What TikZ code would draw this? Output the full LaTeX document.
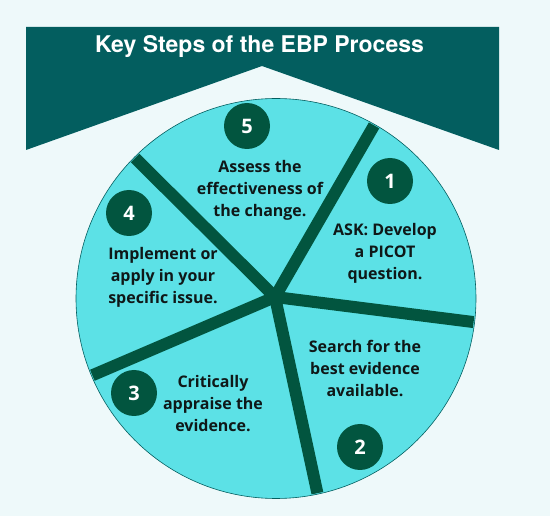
\documentclass[tikz,border=0pt]{standalone}
\usepackage{fontspec}
\setmainfont{Open Sans}
\newfontfamily\titlefont{TeX Gyre Heros}
\usetikzlibrary{positioning,calc}
\definecolor{bgc}{HTML}{EEF9FA}
\definecolor{banner}{HTML}{035E5F}
\definecolor{disc}{HTML}{5CE1E6}
\definecolor{spoke}{HTML}{02553F}
\definecolor{ink}{HTML}{0F1818}

\begin{document}
\begin{tikzpicture}[
      x=1pt, y=-1pt,
      txt/.style={font=\fontsize{16}{22}\selectfont\bfseries, text=ink, align=center, inner sep=0pt},
      num/.style={circle, fill=spoke, minimum size=46pt, inner sep=0pt, text=white, font=\fontsize{20}{20}\selectfont\bfseries},
      spk/.style={draw=spoke, line width=12pt, line cap=round}
    ]
    \fill[bgc] (0,0) rectangle (550,516);
    % banner
    \fill[banner] (26,27) -- (499,27) -- (499,150) -- (262,66) -- (26,150) -- cycle;
    \node[font=\titlefont\fontsize{23}{23}\selectfont\bfseries, text=white] (title) at (259.5,46) {Key Steps of the EBP Process};
    % wheel
    \node[circle, draw=banner, fill=disc, line width=0.6pt, minimum size=400pt, inner sep=0pt] (wheel) at (276,298.5) {};
    \coordinate (hub) at (275,297);
    \begin{scope}
      \clip (wheel.center) circle (199pt);
      \foreach \a in {-60,7.2,77.8,156.8,224.8}
        \draw[spk] (hub) -- ++(\a:215);
    \end{scope}
    % step numbers
    \node[num] (n1) at (390,181) {1};
    \node[num] (n2) at (360,447) {2};
    \node[num] (n3) at (134,393) {3};
    \node[num] (n4) at (129,213) {4};
    \node[num] (n5) at (247,126) {5};
    % step texts
    \node[txt] (s1) at (385,253) {ASK: Develop\\a PICOT\\question.};
    \node[txt] (s2) at (365,368) {Search for the\\best evidence\\available.};
    \node[txt] (s3) at (213,404) {Critically\\appraise the\\evidence.};
    \node[txt] (s4) at (163,277) {Implement or\\apply in your\\specific issue.};
    \node[txt] (s5) at (260,190) {Assess the\\effectiveness of\\the change.};
  \end{tikzpicture}
\end{document}
